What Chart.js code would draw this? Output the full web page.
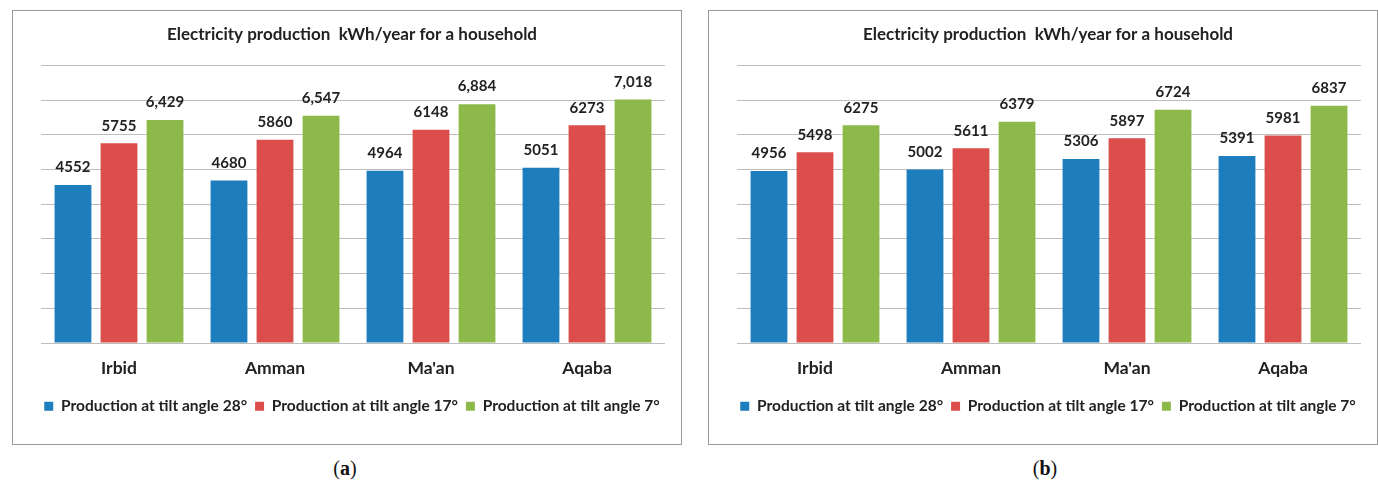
<!DOCTYPE html>
<html>
<head>
<meta charset="utf-8">
<script src="https://cdn.jsdelivr.net/npm/chart.js@4/dist/chart.umd.min.js"></script>
<style>
  body { margin: 0; background: #fff; width: 1378px; height: 481px; position: relative; overflow: hidden; }
  .box { position: absolute; top: 10px; width: 668px; height: 433px; border: 1px solid #999; }
  .box canvas { position: absolute; left: 0; top: 0; }
  .cap { position: absolute; top: 457px; font-family: "Liberation Serif", "DejaVu Serif", serif; font-size: 20px; line-height: 23px; color: #111; width: 60px; text-align: center; }
</style>
</head>
<body>
<div class="box" style="left:12px"><canvas id="grafA" width="668" height="433"></canvas></div>
<div class="box" style="left:708px"><canvas id="grafB" width="668" height="433"></canvas></div>
<div class="cap" style="left:315px">(<b>a</b>)</div>
<div class="cap" style="left:1015px">(<b>b</b>)</div>
<script>
const cities = ["Irbid", "Amman", "Ma'an", "Aqaba"];
const seriesNames = ["Production at tilt angle 28°", "Production at tilt angle 17°", "Production at tilt angle 7°"];

// (a)
const tilt28A = [4552, 4680, 4964, 5051];
const tilt17A = [5755, 5860, 6148, 6273];
const tilt7A = [6429, 6547, 6884, 7018];
// (b)
const tilt28B = [4956, 5002, 5306, 5391];
const tilt17B = [5498, 5611, 5897, 5981];
const tilt7B = [6275, 6379, 6724, 6837];

const yMax = 8000;
const yStep = 1000;
const chartTitle = "Electricity production  kWh/year for a household";

const colori = ["#1e7dbd", "#db4e4b", "#8db94b"];
const fontName = "Lato, 'Open Sans', sans-serif";

// valori sopra le barre
const etichette = {
    id: 'etichette',
    afterDatasetsDraw(chart, args, opts) {
        const ctx = chart.ctx;
        ctx.save();
        ctx.font = "bold 15px " + fontName;
        ctx.fillStyle = "#222";
        ctx.textAlign = "center";
        ctx.textBaseline = "bottom";
        chart.data.datasets.forEach((ds, i) => {
            const meta = chart.getDatasetMeta(i);
            meta.data.forEach((bar, j) => {
                const v = ds.data[j];
                const testo = (opts.comma || []).includes(i) ? v.toLocaleString('en-US') : String(v);
                ctx.fillText(testo, bar.x, bar.y - 10);
            });
        });
        ctx.restore();
    }
};

function disegna(id, serie, comma) {
    const config = {
        type: 'bar',
        data: {
            labels: cities,
            datasets: serie.map((d, i) => ({
                label: seriesNames[i],
                data: d,
                backgroundColor: colori[i],
                borderWidth: 0,
                categoryPercentage: 0.885,
                barPercentage: 0.8
            }))
        },
        options: {
            responsive: false,
            animation: false,
            layout: { padding: { left: 10, right: 0, bottom: 20 } },
            plugins: {
                title: {
                    display: true,
                    text: chartTitle,
                    color: "#222",
                    font: { family: fontName, size: 17, weight: 'bold' },
                    padding: { top: 13, bottom: 21 }
                },
                legend: {
                    position: 'bottom',
                    labels: {
                        boxWidth: 9,
                        boxHeight: 9,
                        padding: 8,
                        color: "#222",
                        font: { family: fontName, size: 15.5, weight: 'bold' }
                    }
                },
                tooltip: { enabled: false },
                etichette: { comma: comma }
            },
            scales: {
                x: {
                    grid: { display: false },
                    border: { display: false },
                    ticks: {
                        color: "#222",
                        padding: 7,
                        font: { family: fontName, size: 17.5, weight: 'bold' }
                    },
                    afterFit: s => { s.height = 47.5; }
                },
                y: {
                    min: 0,
                    max: yMax,
                    ticks: { display: false, stepSize: yStep },
                    grid: { color: "#bdbdbd", lineWidth: 1, drawTicks: false },
                    border: { display: false },
                    afterFit: s => { s.width = 18; }
                },
                destra: {
                    position: 'right',
                    grid: { display: false },
                    ticks: { display: false },
                    border: { display: false },
                    afterFit: s => { s.width = 16; }
                }
            }
        },
        plugins: [etichette]
    };
    new Chart(document.getElementById(id).getContext('2d'), config);
}

disegna('grafA', [tilt28A, tilt17A, tilt7A], [2]);
disegna('grafB', [tilt28B, tilt17B, tilt7B], []);
</script>
</body>
</html>
